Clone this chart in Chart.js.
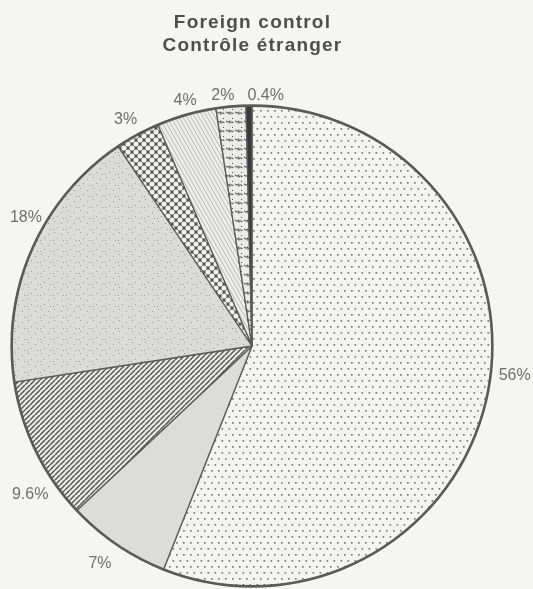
<!DOCTYPE html>
<html>
<head>
<meta charset="utf-8">
<script src="https://cdn.jsdelivr.net/npm/chart.js@4"></script>
<style>
  body { margin: 0; background: #f5f5f3; }
  #wrap { position: relative; width: 533px; height: 589px; }
  .title {
    position: absolute; left: -14px; width: 533px; text-align: center;
    font: bold 19px "Liberation Sans", Arial, sans-serif; color: #4e4e4e;
    letter-spacing: 1.2px;
  }
</style>
</head>
<body>
<div id="wrap">
  <div class="title" style="top:11px">Foreign control</div>
  <div class="title" style="top:34px">Contrôle étranger</div>
  <canvas id="pie" width="533" height="589"></canvas>
</div>
<script>
const categories = ["A", "B", "C", "D", "E", "F", "G", "H"];
const shares = [56, 7, 9.6, 18, 3, 4, 2, 0.4];
const shareLabels = ["56%", "7%", "9.6%", "18%", "3%", "4%", "2%", "0.4%"];

// label nudges from the mid-angle position (layout only)
const labelNudge = [[4, -20], [-4, 0], [15, 33], [15, -22], [-1, 5], [5, 8], [-6, 12], [17, 13]];

function tile(w, h, draw) {
  const c = document.createElement("canvas");
  c.width = w; c.height = h;
  const g = c.getContext("2d");
  draw(g, w, h);
  return c.getContext("2d").createPattern(c, "repeat");
}

const dots = tile(7, 12, (g, w, h) => {
  g.fillStyle = "#f4f4f1"; g.fillRect(0, 0, w, h);
  g.fillStyle = "#7c7c7a";
  g.fillRect(1, 2, 1.7, 1.7);
  g.fillRect(4.5, 8, 1.7, 1.7);
});

const stripes = tile(5, 5, (g, w, h) => {
  g.fillStyle = "#ebebe9"; g.fillRect(0, 0, w, h);
  g.strokeStyle = "#555"; g.lineWidth = 1.5;
  for (let k = -1; k <= 1; k++) {
    g.beginPath(); g.moveTo(0, h + k * h); g.lineTo(w, k * h); g.stroke();
  }
});

const speckled = tile(13, 11, (g, w, h) => {
  g.fillStyle = "#dbdbd9"; g.fillRect(0, 0, w, h);
  g.fillStyle = "#9a9a98";
  [[2, 1], [9, 3], [5, 7], [11, 9], [1, 9]].forEach(([x, y]) => g.fillRect(x, y, 1, 1));
});

const cross = tile(8, 8, (g, w, h) => {
  g.fillStyle = "#505050"; g.fillRect(0, 0, w, h);
  g.fillStyle = "#f0f0ee";
  [[0, 0], [8, 0], [0, 8], [8, 8], [4, 4]].forEach(([x, y]) => {
    g.beginPath(); g.arc(x, y, 2.6, 0, Math.PI * 2); g.fill();
  });
});

const thin = tile(4, 7, (g, w, h) => {
  g.fillStyle = "#efefed"; g.fillRect(0, 0, w, h);
  g.strokeStyle = "#a8a8a6"; g.lineWidth = 0.8;
  for (let k = -1; k <= 1; k++) {
    g.beginPath(); g.moveTo(k * w, 0); g.lineTo(w + k * w, h); g.stroke();
  }
});

const squiggle = tile(9, 9, (g, w, h) => {
  g.fillStyle = "#ebebe9"; g.fillRect(0, 0, w, h);
  g.strokeStyle = "#4e4e4e"; g.lineWidth = 1.1;
  g.beginPath(); g.arc(3, 3, 2, 0.3, 2.7); g.stroke();
  g.beginPath(); g.arc(6.5, 7, 2, 3.4, 5.8); g.stroke();
  g.fillStyle = "#4e4e4e"; g.fillRect(7, 1, 1, 1);
});

const fills = [dots, "#dcdcda", stripes, speckled, cross, thin, squiggle, "#3a3a3a"];

const labelPlugin = {
  id: "labels",
  afterDatasetsDraw(chart) {
    const ctx = chart.ctx;
    const arcs = chart.getDatasetMeta(0).data;
    const a0 = arcs[0];
    ctx.save();
    ctx.beginPath();
    ctx.arc(a0.x, a0.y, a0.outerRadius, 0, Math.PI * 2);
    ctx.strokeStyle = "#5a5a5a"; ctx.lineWidth = 2.6; ctx.stroke();
    ctx.font = "16px 'Liberation Sans', Arial, sans-serif";
    ctx.fillStyle = "#6e6e6e";
    ctx.textAlign = "center"; ctx.textBaseline = "middle";
    arcs.forEach((arc, i) => {
      const mid = (arc.startAngle + arc.endAngle) / 2;
      const r = arc.outerRadius + 23;
      const x = arc.x + Math.cos(mid) * r + labelNudge[i][0];
      const y = arc.y + Math.sin(mid) * r + labelNudge[i][1];
      ctx.fillText(shareLabels[i], x, y);
    });
    ctx.restore();
  }
};

new Chart(document.getElementById("pie"), {
  type: "pie",
  data: {
    labels: categories,
    datasets: [{
      data: shares,
      backgroundColor: fills,
      borderColor: "#5a5a5a",
      borderWidth: 1.3
    }]
  },
  options: {
    responsive: false,
    animation: false,
    layout: { padding: { top: 105, left: 11, right: 40, bottom: 2 } },
    plugins: { legend: { display: false }, tooltip: { enabled: false } }
  },
  plugins: [labelPlugin]
});
</script>
</body>
</html>
